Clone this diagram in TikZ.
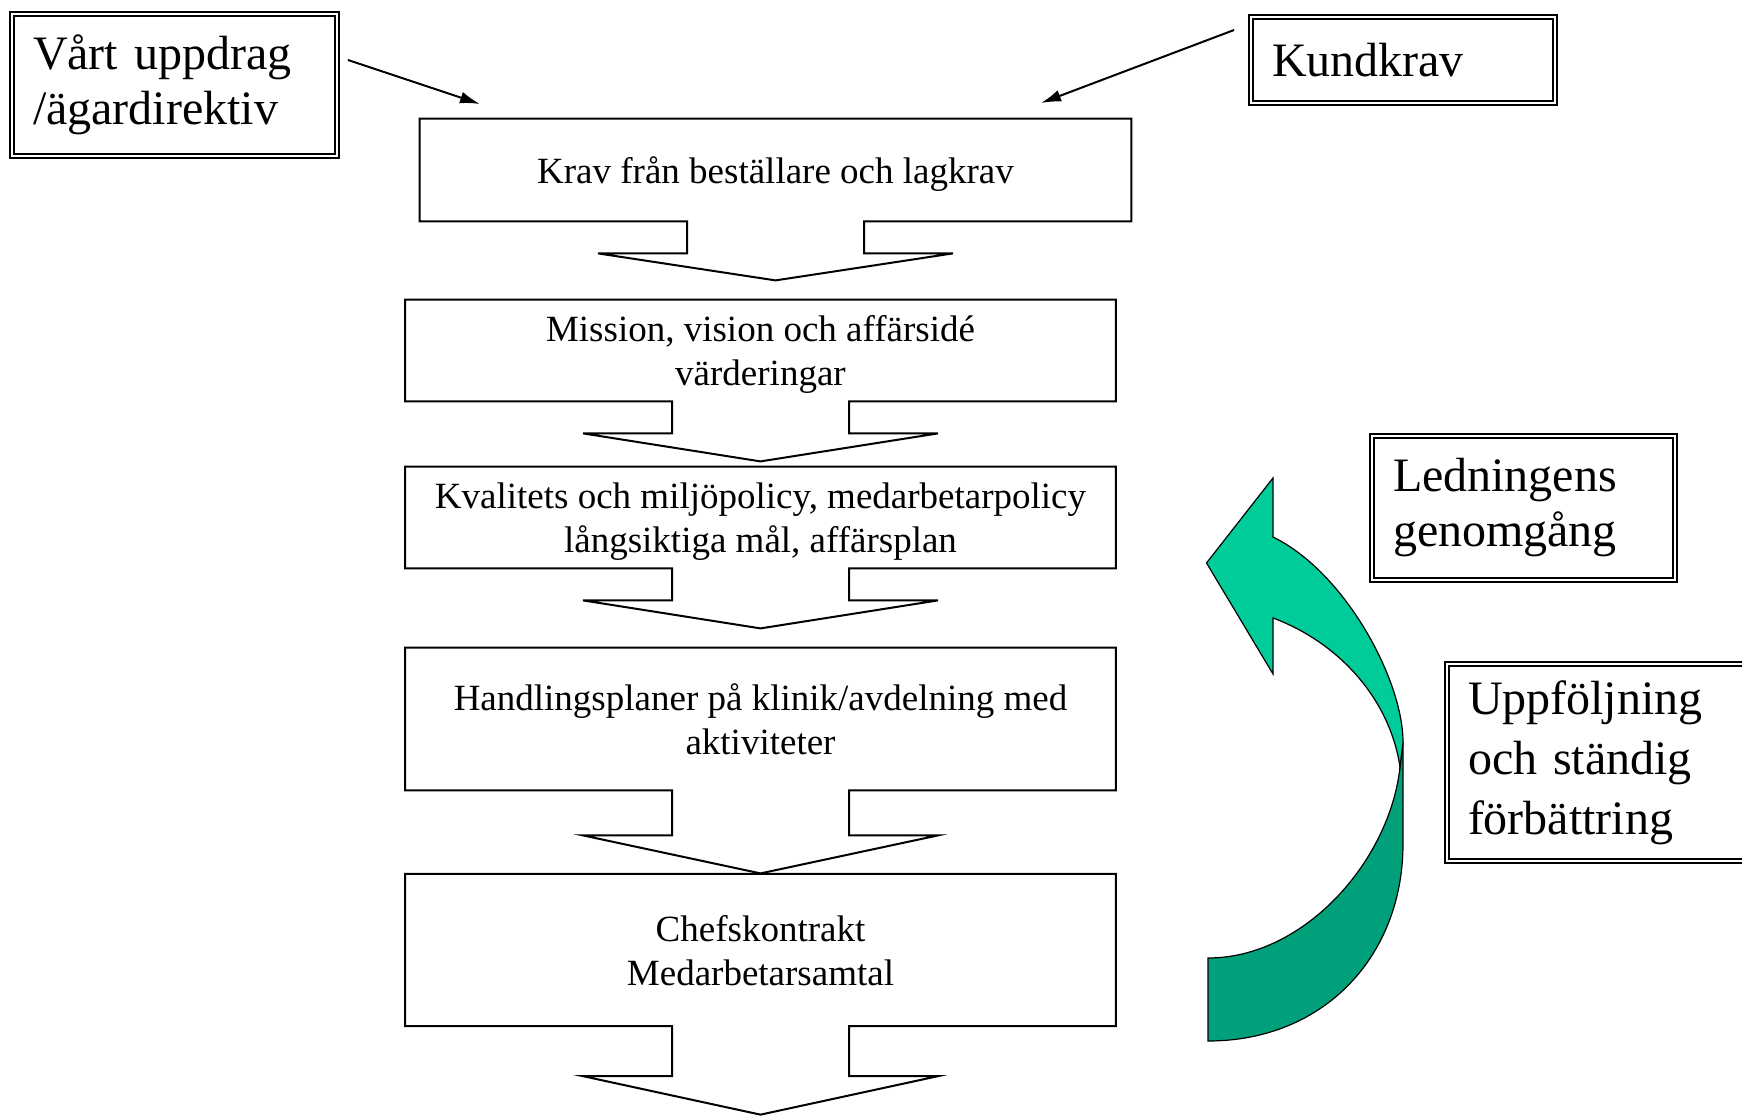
\documentclass[tikz,border=0pt]{standalone}
\usepackage{fontspec}
\setmainfont{Liberation Serif}
\usetikzlibrary{calc,arrows.meta}
\definecolor{pilljus}{RGB}{0,204,153}
\definecolor{pilmork}{RGB}{0,161,122}
\tikzset{
  flode/.style={inner sep=0pt, align=center, text depth=0pt,
    font=\fontsize{18.5}{22}\selectfont},
  ram/.style={draw, line width=0.9pt, double distance=1.2pt, inner xsep=10.5pt,
    inner ysep=0pt, align=left, font=\fontsize{24}{27.5}\selectfont},
  pil/.style={line width=1pt, -{Latex[length=10pt,width=6pt]}},
  kant/.style={line width=1pt, line join=miter}
}
% box with its down arrow: node, stem length, tip length
\newcommand{\flodepil}[3]{%
  \draw[kant] (#1.south west) -- (#1.north west) -- (#1.north east) -- (#1.south east)
    -- ($(#1.south)+(88.5,0)$) -- ++(0,#2) -- ++(89,0) -- ($(#1.south)+(0,#3)$)
    -- ($(#1.south)+(-177.5,#2)$) -- ++(89,0) -- ++(0,-#2) -- cycle;}

\begin{document}
\begin{tikzpicture}[x=0.5pt,y=-0.5pt]
    \useasboundingbox (0,0) rectangle (1742,1117);
    \clip (0,0) rectangle (1742,1117);

    % the flow
    \node[flode, minimum width=355.5pt, minimum height=51pt] (krav) at (775.5,170)
        {Krav från beställare och lagkrav};
    \node[flode, minimum width=355pt, minimum height=50.5pt] (mission) at (760.5,350.5)
        {Mission, vision och affärsidé\\värderingar};
    \node[flode, minimum width=355pt, minimum height=50.5pt] (policy) at (760.5,517.5)
        {Kvalitets och miljöpolicy, medarbetarpolicy\\långsiktiga mål, affärsplan};
    \node[flode, minimum width=355pt, minimum height=71pt] (plan) at (760.5,719)
        {Handlingsplaner på klinik/avdelning med\\aktiviteter};
    \node[flode, minimum width=355pt, minimum height=75.75pt] (chef) at (760.5,950)
        {Chefskontrakt\\Medarbetarsamtal};
    \flodepil{krav}{32}{59}
    \flodepil{mission}{32}{60}
    \flodepil{policy}{32}{60}
    \flodepil{plan}{45}{83}
    \flodepil{chef}{50}{88.5}

    % framed boxes
    \node[ram, text width=141.5pt, minimum height=71pt] (vart) at (174.5,85)
        {Vårt uppdrag\\/ägardirektiv};
    \node[ram, text width=131pt, minimum height=43pt] (kund) at (1403,60) {Kundkrav};
    \node[ram, text width=130.5pt, minimum height=72pt] (ledning) at (1523.5,508)
        {Ledningens\\genomgång};
    \node[ram, text width=139pt, minimum height=98.5pt, font=\fontsize{24}{30}\selectfont]
        (uppfoljning) at (1607,762.5) {Uppföljning\\och ständig\\förbättring};

    % inputs
    \coordinate (in1) at (480,104);
    \coordinate (in2) at (1041,103);
    \draw[pil] ($(vart.east)+(10,-25)$) -- (in1);
    \draw[pil] ($(kund.west)+(-16,-30)$) -- (in2);

    % curved arrow
    \draw[fill=pilmork, line width=0.6pt] (1208,958) -- (1208,1041)
        .. controls (1325,1041) and (1403,955) .. (1403,844) -- (1403,742) -- (1400,767)
        .. controls (1390,860) and (1305,958) .. (1208,958) -- cycle;
    \draw[fill=pilljus, line width=0.6pt, line join=miter] (1403,742)
        .. controls (1403,680) and (1345,572) .. (1273,537) -- (1273,478) -- (1206.5,563)
        -- (1273,674) -- (1273,618)
        .. controls (1340,643) and (1390,700) .. (1400,767) -- cycle;
\end{tikzpicture}
\end{document}
